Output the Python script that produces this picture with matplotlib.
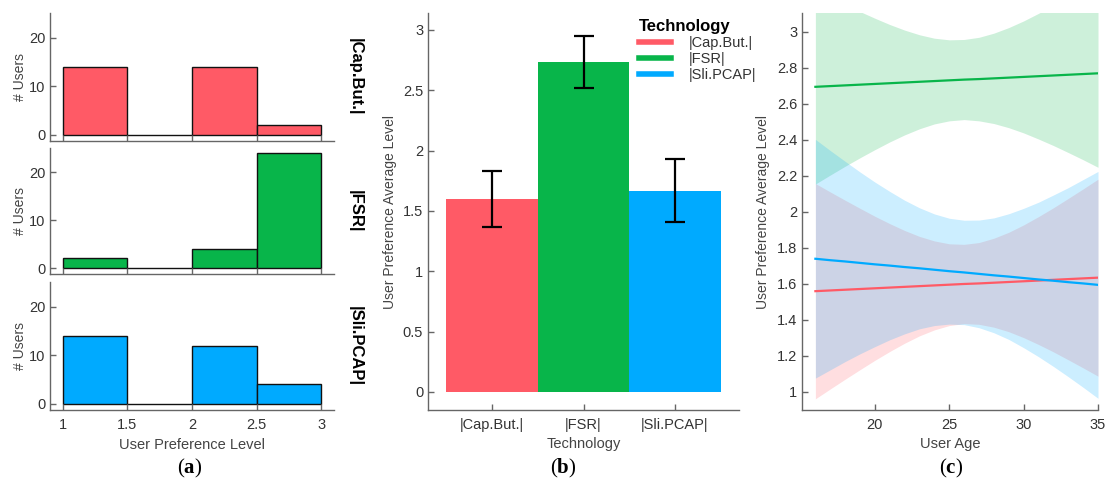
import numpy as np
import matplotlib
matplotlib.use("Agg")
import matplotlib.pyplot as plt

plt.rcParams['font.family'] = ['Liberation Sans', 'DejaVu Sans']
plt.rcParams['mathtext.fontset'] = 'custom'
plt.rcParams['mathtext.bf'] = 'Liberation Serif:bold'
plt.rcParams['mathtext.rm'] = 'Liberation Serif'

# technologies and colours
techs = ['|Cap.But.|', '|FSR|', '|Sli.PCAP|']
colors = ['#FF5A66', '#08B54A', '#00AAFF']

# (a) histogram of preference levels
bin_edges = [1.0, 1.5, 2.0, 2.5, 3.0]
hist_counts = [
    [14, 0, 14, 2],
    [2, 0, 4, 24],
    [14, 0, 12, 4],
]

# (b) mean preference with error bars
pref_mean = [1.60, 2.73, 1.667]
pref_low = [1.37, 2.515, 1.405]
pref_high = [1.83, 2.95, 1.93]

# (c) preference vs age, fitted line with confidence band
ages = [16, 17, 18, 19, 20, 21, 22, 23, 24, 25, 26, 27, 28, 29, 30, 31, 32, 33, 34, 35]
fit_line = [
    [1.560, 1.564, 1.568, 1.572, 1.576, 1.580, 1.584, 1.588, 1.592, 1.596,
     1.600, 1.603, 1.607, 1.611, 1.615, 1.619, 1.623, 1.627, 1.631, 1.635],
    [2.695, 2.699, 2.703, 2.707, 2.711, 2.715, 2.719, 2.723, 2.727, 2.731,
     2.735, 2.738, 2.742, 2.746, 2.750, 2.754, 2.758, 2.762, 2.766, 2.770],
    [1.740, 1.732, 1.725, 1.717, 1.709, 1.702, 1.694, 1.687, 1.679, 1.671,
     1.664, 1.656, 1.648, 1.641, 1.633, 1.625, 1.618, 1.610, 1.603, 1.595],
]
band_upper = [
    [2.158, 2.111, 2.065, 2.020, 1.976, 1.935, 1.897, 1.864, 1.839, 1.823,
     1.820, 1.830, 1.854, 1.887, 1.928, 1.974, 2.023, 2.075, 2.128, 2.182],
    [3.235, 3.193, 3.152, 3.113, 3.076, 3.041, 3.010, 2.984, 2.965, 2.956,
     2.958, 2.970, 2.993, 3.024, 3.061, 3.103, 3.147, 3.194, 3.242, 3.292],
    [2.403, 2.341, 2.281, 2.222, 2.166, 2.114, 2.065, 2.023, 1.989, 1.965,
     1.954, 1.955, 1.967, 1.990, 2.020, 2.054, 2.094, 2.135, 2.180, 2.225],
]
band_lower = [
    [0.962, 1.017, 1.071, 1.124, 1.176, 1.225, 1.271, 1.312, 1.345, 1.369,
     1.380, 1.376, 1.360, 1.335, 1.302, 1.264, 1.223, 1.179, 1.134, 1.088],
    [2.155, 2.205, 2.254, 2.301, 2.346, 2.389, 2.428, 2.462, 2.489, 2.506,
     2.513, 2.506, 2.491, 2.468, 2.439, 2.405, 2.369, 2.330, 2.290, 2.248],
    [1.077, 1.123, 1.169, 1.212, 1.252, 1.290, 1.323, 1.351, 1.369, 1.377,
     1.374, 1.357, 1.329, 1.292, 1.246, 1.196, 1.142, 1.085, 1.026, 0.965],
]

W, H = 1106, 490
fig = plt.figure(figsize=(W / 100, H / 100), dpi=100)

spine_col = '#666666'
txt_col = '#333333'


def px_axes(x0, y0, x1, y1):
    return fig.add_axes([x0 / W, 1 - y1 / H, (x1 - x0) / W, (y1 - y0) / H])


def style(ax):
    for s in ['top', 'right']:
        ax.spines[s].set_visible(False)
    for s in ['left', 'bottom']:
        ax.spines[s].set_color(spine_col)
        ax.spines[s].set_linewidth(1.0)
    ax.tick_params(direction='in', length=4, color=spine_col, labelcolor=txt_col,
                   labelsize=10.5, width=1.0)
    ax.tick_params(axis='x', pad=6)


# ---- (a)
rows = [(13, 141), (148, 274), (282, 410)]
for i, (y0, y1) in enumerate(rows):
    ax = px_axes(50, y0, 334, y1)
    style(ax)
    ax.bar(bin_edges[:-1], hist_counts[i], width=0.5, align='edge',
           color=colors[i], edgecolor='#111111', linewidth=1.0)
    ax.set_xlim(0.9, 3.1)
    ax.set_ylim(-1.25, 25.1)
    ax.set_yticks([0, 10, 20])
    ax.set_xticks([1, 1.5, 2, 2.5, 3])
    if i < 2:
        ax.set_xticklabels([])
    else:
        ax.set_xticklabels(['1', '1.5', '2', '2.5', '3'])
        ax.set_xlabel('User Preference Level', fontsize=10.5, color='#444444', labelpad=4)
    ax.set_ylabel('# Users', fontsize=10, color='#444444', labelpad=1)
    ax.text(1.05, 0.5, techs[i], transform=ax.transAxes, rotation=270,
            ha='left', va='center', fontsize=12, fontweight='bold')

# ---- (b)
axb = px_axes(428, 13, 739, 410)
style(axb)
xpos = np.arange(1, 4)
for i in range(3):
    axb.bar(xpos[i], pref_mean[i], width=1.0, color=colors[i], label=techs[i])
err = [np.array(pref_mean) - np.array(pref_low), np.array(pref_high) - np.array(pref_mean)]
axb.errorbar(xpos, pref_mean, yerr=err, fmt='none', ecolor='black',
             elinewidth=1.6, capsize=7.5, capthick=1.6)
axb.set_xlim(0.3, 3.7)
axb.set_ylim(-0.15, 3.14)
axb.set_xticks(xpos)
axb.set_xticklabels(techs)
axb.set_yticks([0, 0.5, 1, 1.5, 2, 2.5, 3])
axb.set_yticklabels(['0', '0.5', '1', '1.5', '2', '2.5', '3'])
axb.set_xlabel('Technology', fontsize=10.5, color='#444444', labelpad=3)
axb.set_ylabel('User Preference Average Level', fontsize=10, color='#444444', labelpad=4)
handles = [plt.Line2D([], [], color=c, lw=4) for c in colors]
leg = axb.legend(handles, techs, title='Technology', loc='upper left',
                 bbox_to_anchor=(0.66, 1.0), frameon=False, fontsize=10.5,
                 handlelength=2.2, handletextpad=1.2, labelspacing=0.15,
                 borderaxespad=0.0, alignment='left',
                 title_fontproperties={'weight': 'bold', 'size': 12})
for t in leg.get_texts():
    t.set_color(txt_col)

# ---- (c)
axc = px_axes(802, 13, 1098, 410)
style(axc)
for i in [0, 1, 2]:
    axc.fill_between(ages, band_lower[i], band_upper[i], color=colors[i],
                     alpha=0.2, linewidth=0)
    axc.plot(ages, fit_line[i], color=colors[i], lw=1.6)
axc.set_xlim(15.1, 35)
axc.set_ylim(0.9, 3.105)
axc.set_xticks([20, 25, 30, 35])
axc.set_yticks([1, 1.2, 1.4, 1.6, 1.8, 2, 2.2, 2.4, 2.6, 2.8, 3])
axc.set_yticklabels(['1', '1.2', '1.4', '1.6', '1.8', '2', '2.2', '2.4', '2.6', '2.8', '3'])
axc.set_xlabel('User Age', fontsize=10.5, color='#444444', labelpad=3)
axc.set_ylabel('User Preference Average Level', fontsize=10, color='#444444', labelpad=5)

# panel letters
for lab, xp in [('a', 190), ('b', 563), ('c', 951)]:
    fig.text(xp / W, 1 - 468 / H, '(' + r'$\mathbf{' + lab + '}$' + ')',
             ha='center', va='center', fontsize=15, family='Liberation Serif')

fig.savefig('out.png', dpi=100)
